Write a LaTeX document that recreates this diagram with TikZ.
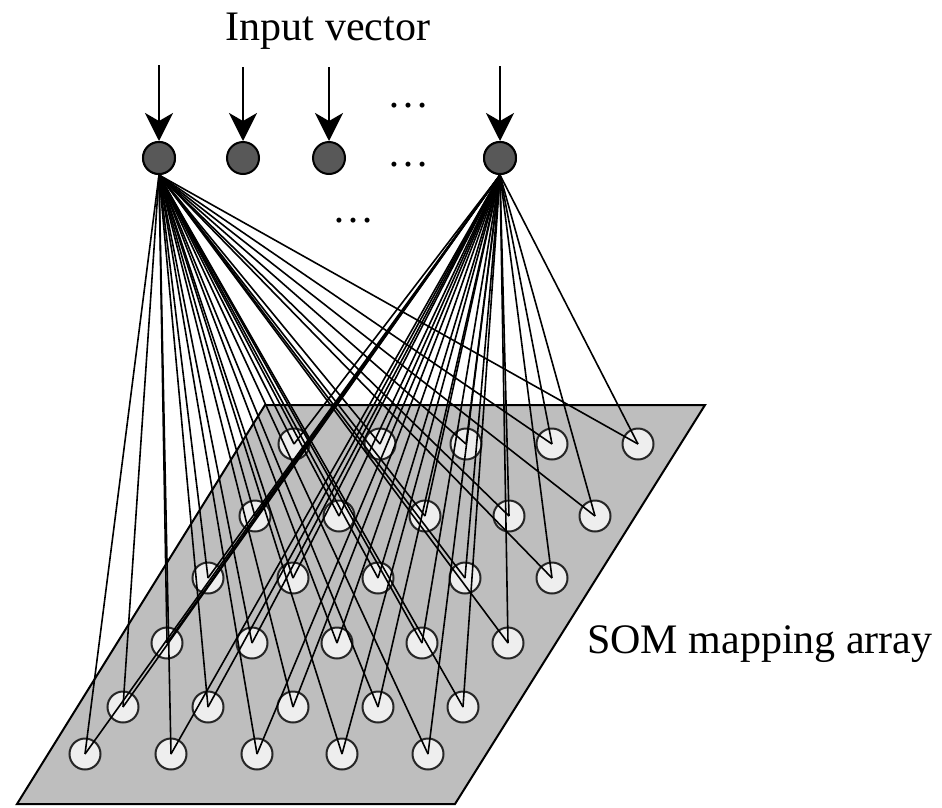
\documentclass[tikz,border=0pt]{standalone}
\usepackage{fontspec}
\setmainfont{Liberation Serif}
\usetikzlibrary{arrows.meta}
\definecolor{planegray}{RGB}{190,190,190}
\definecolor{cellfill}{RGB}{238,238,238}
\definecolor{inputfill}{RGB}{88,88,88}
\begin{document}
\begin{tikzpicture}[x=1pt,y=-1pt,
  plane/.style={draw=black,line width=2pt,fill=planegray,line join=miter},
  cell/.style={circle,draw=black!85,line width=2pt,fill=cellfill,minimum size=31pt,inner sep=0pt},
  inp/.style={circle,draw=black,line width=2pt,fill=inputfill,minimum size=32pt,inner sep=0pt},
  link/.style={line width=1.6pt,black},
  feed/.style={line width=2.6pt,-{Stealth[length=28pt,width=28pt,inset=8pt]}},
  lbl/.style={font=\fontsize{42}{50}\selectfont,inner sep=0pt}]
\useasboundingbox (0,0) rectangle (942,807);
\fill[white] (0,0) rectangle (942,807);
% map plane
\draw[plane] (265,405) -- (705,405) -- (455,804) -- (17,804) -- cycle;
% map cells
\foreach \r/\yy/\xa/\xb/\xc/\xd/\xe in {
  1/444/294/380/466/552/638,
  2/516/255/339/425/509/595,
  3/578/208/293/378/465/552,
  4/643/167/252/337/422/508,
  5/707/123/208/293/378/463,
  6/754/85/171/257/342/428}{
  \foreach \xx [count=\c] in {\xa,\xb,\xc,\xd,\xe}
    \node[cell] (m\r\c) at (\xx,\yy) {};
}
% input nodes
\node[inp] (i1) at (159,158) {};
\node[inp] (i2) at (243,158) {};
\node[inp] (i3) at (329,158) {};
\node[inp] (i4) at (500,158) {};
% connections
\foreach \r in {1,...,6}{
  \foreach \c in {1,...,5}{
    \draw[link] (i1.south) -- (m\r\c.center);
    \draw[link] (i4.south) -- (m\r\c.center);
  }
}
\node[inp] at (i1) {};
\node[inp] at (i4) {};
% input arrows
\coordinate (a1) at (159,65);
\coordinate (a2) at (243,67);
\coordinate (a3) at (329,67);
\coordinate (a4) at (500,66);
\draw[feed] (a1) -- (i1.north);
\draw[feed] (a2) -- (i2.north);
\draw[feed] (a3) -- (i3.north);
\draw[feed] (a4) -- (i4.north);
% labels
\node[lbl,anchor=base] (title) at (328,40) {Input vector};
\node[lbl,anchor=base west] (somlbl) at (587,653) {SOM mapping array};
\node[lbl,anchor=base] (dotsA) at (408,107) {…};
\node[lbl,anchor=base] (dotsB) at (408,166) {…};
\node[lbl,anchor=base] (dotsC) at (353,222) {…};
\end{tikzpicture}
\end{document}
